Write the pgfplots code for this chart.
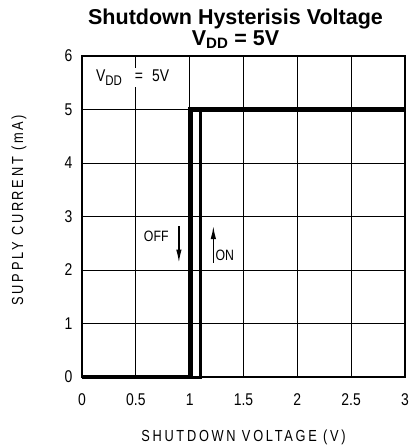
\documentclass[border=0pt]{standalone}
\usepackage{pgfplots}
\pgfplotsset{compat=1.18}
\usetikzlibrary{arrows.meta}
\usepackage{fontspec}
\setmainfont{Liberation Sans}
\newfontfamily\tickfont[FakeStretch=0.82]{Liberation Sans}
\newfontfamily\labfont[FakeStretch=0.8, LetterSpace=17]{Liberation Sans}
\begin{document}
\begin{tikzpicture}[x=1pt,y=1pt]
\begin{axis}[
  at={(0,0)}, anchor=south west,
  scale only axis, width=323pt, height=321pt,
  xmin=0, xmax=3, ymin=0, ymax=6,
  xtick={0,0.5,...,3}, ytick={0,1,...,6},
  xticklabels={0,0.5,1,1.5,2,2.5,3},
  grid=major, major grid style={black, line width=0.9pt},
  axis line style={black, line width=1.2pt},
  tick style={draw=none},
  ticklabel style={font=\tickfont\fontsize{17}{19}\selectfont},
  /pgf/number format/assume math mode=true,
  xticklabel style={yshift=-13pt},
  yticklabel style={xshift=-6pt},
  xlabel={SHUTDOWN VOLTAGE (V)},
  ylabel={SUPPLY CURRENT (mA)},
  xlabel style={font=\labfont\fontsize{16}{18}\selectfont, at={(axis description cs:0.5,0)}, yshift=-60pt, anchor=center},
  ylabel style={font=\labfont\fontsize{16}{18}\selectfont, at={(axis description cs:-0.195,0.52)}, anchor=center},
  title={Shutdown Hysterisis Voltage\\ V\textsubscript{DD} = 5V},
  title style={font=\bfseries\fontsize{21.5}{17}\selectfont, align=center, at={(axis description cs:0.5,1)}, anchor=south, yshift=-2pt, xshift=-8pt},
  clip=false,
]
\addplot[black, line width=4.5pt, line join=miter] coordinates {(0,0) (1.01,0) (1.01,5) (3,5)};
\addplot[black, line width=3pt, line join=miter] coordinates {(0,0) (1.10,0) (1.10,5) (3,5)};
\node[fill=white, inner sep=2pt, font=\tickfont\fontsize{17}{19}\selectfont] at (axis cs:0.47,5.6) {V\raisebox{-3.5pt}{\fontsize{14}{14}\selectfont DD}\hspace{13pt}=\hspace{9pt}5V};
\node[font=\tickfont\fontsize{15}{17}\selectfont] at (axis cs:0.69,2.62) {OFF};
\draw[-{Latex[length=13pt,width=5.5pt]}, line width=1.3pt] (axis cs:0.90,2.82) -- (axis cs:0.90,2.14);
\draw[-{Latex[length=13pt,width=5.5pt]}, line width=1.3pt] (axis cs:1.22,2.14) -- (axis cs:1.22,2.82);
\node[font=\tickfont\fontsize{15}{17}\selectfont, anchor=west, inner sep=1pt] at (axis cs:1.23,2.27) {ON};
\end{axis}
\useasboundingbox (-82pt,-71pt) rectangle (329pt,377pt);
\end{tikzpicture}
\end{document}
